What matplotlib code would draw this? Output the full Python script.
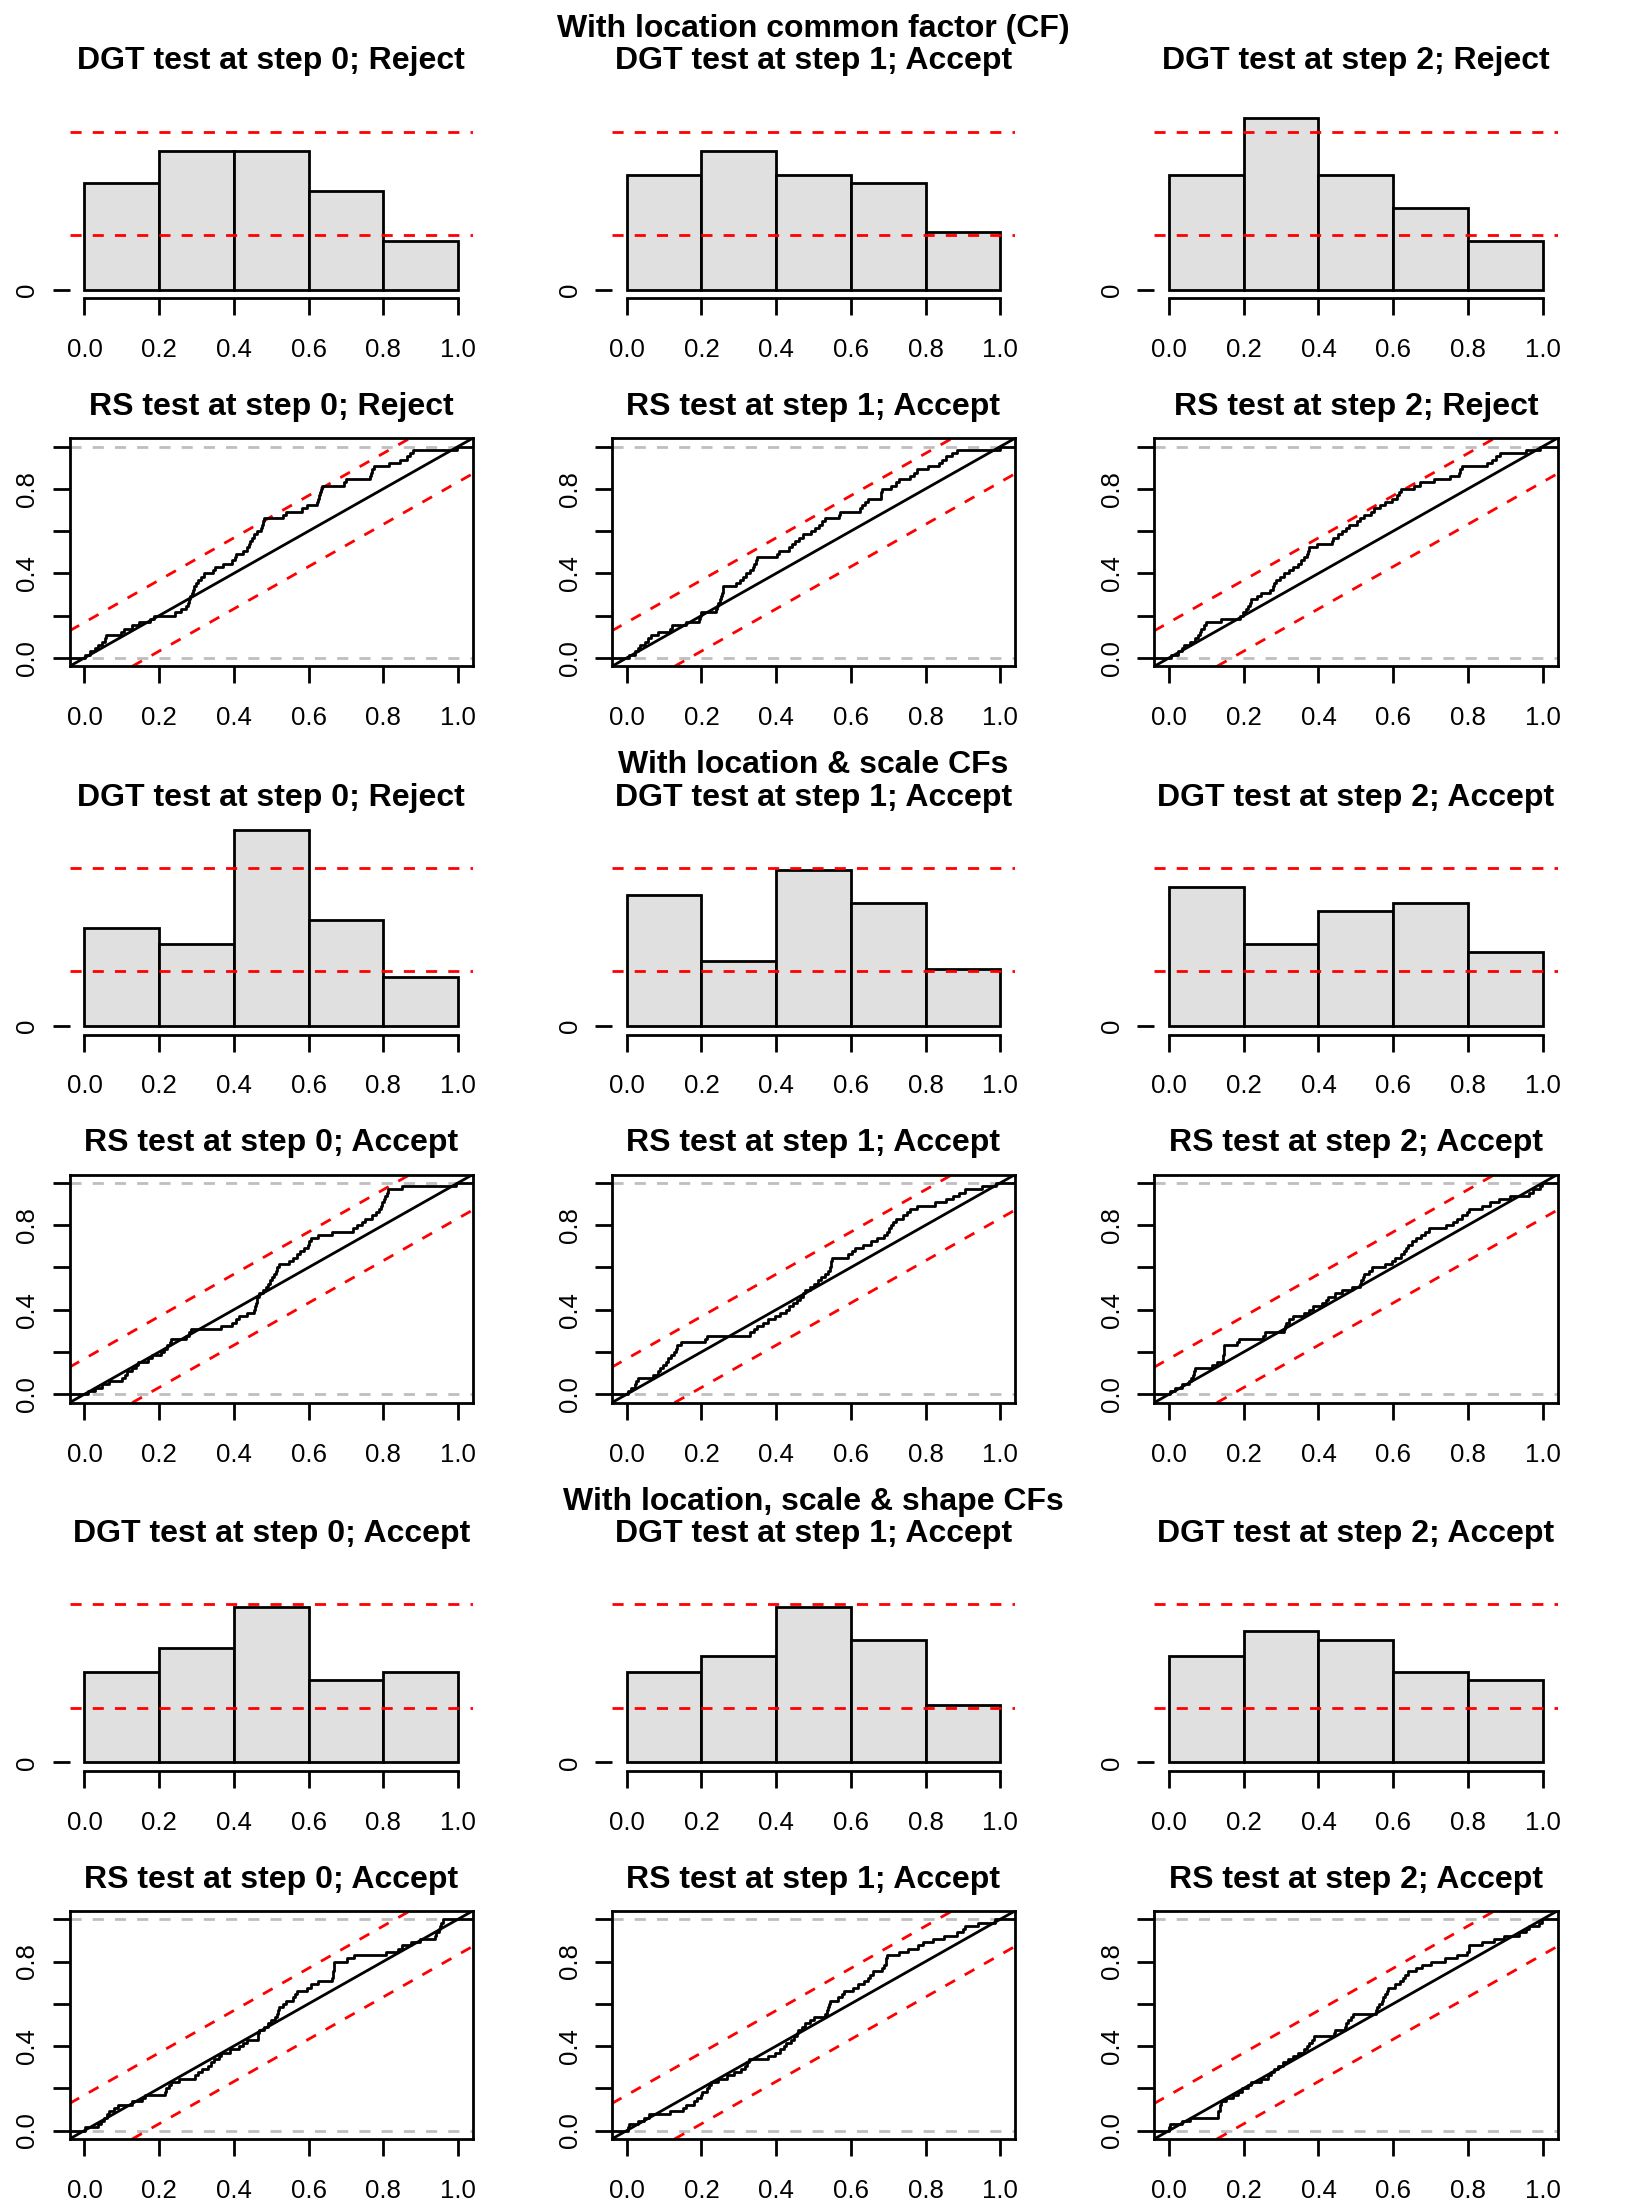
import numpy as np
import matplotlib
matplotlib.use("Agg")
import matplotlib.pyplot as plt

plt.rcParams['font.family'] = ['Liberation Sans', 'DejaVu Sans']

# 行标题 / 检验结果
row_titles = ["With location common factor (CF)",
              "With location & scale CFs",
              "With location, scale & shape CFs"]
dgt_results = [["Reject", "Accept", "Reject"],
               ["Reject", "Accept", "Accept"],
               ["Accept", "Accept", "Accept"]]
rs_results = [["Reject", "Accept", "Reject"],
              ["Accept", "Accept", "Accept"],
              ["Accept", "Accept", "Accept"]]

bin_edges = [0.0, 0.2, 0.4, 0.6, 0.8, 1.0]
x_ticks = [0.0, 0.2, 0.4, 0.6, 0.8, 1.0]
dgt_lower = 6.7     # 每个区间计数的置信下界
dgt_upper = 19.3    # 上界
dgt_ymax = 25.8
rs_band = 0.168     # KS 带宽

# PIT 值
pit_loc_0 = [0.002, 0.015, 0.028, 0.035, 0.048, 0.055, 0.058, 0.098, 0.105, 0.128, 0.145, 0.176, 0.185,
             0.242, 0.258, 0.272, 0.278, 0.281, 0.284, 0.287, 0.290, 0.293, 0.298, 0.305, 0.312, 0.320,
             0.344, 0.350, 0.372, 0.396,
             0.402, 0.406, 0.425, 0.436, 0.440, 0.444, 0.449, 0.454, 0.462, 0.473, 0.476, 0.479, 0.482,
             0.532, 0.540, 0.583, 0.595,
             0.622, 0.625, 0.628, 0.630, 0.633, 0.636, 0.695, 0.700, 0.765, 0.768, 0.771, 0.775,
             0.815, 0.846, 0.865, 0.872, 0.880, 0.998]
pit_loc_1 = [0.005, 0.021, 0.030, 0.035, 0.050, 0.058, 0.064, 0.083, 0.115, 0.121, 0.159, 0.193, 0.196, 0.198,
             0.238, 0.242, 0.245, 0.249, 0.252, 0.255, 0.257, 0.259, 0.292, 0.302, 0.311, 0.320, 0.330,
             0.337, 0.341, 0.345, 0.350,
             0.403, 0.407, 0.435, 0.442, 0.450, 0.462, 0.473, 0.492, 0.505, 0.516, 0.523, 0.530, 0.568, 0.570,
             0.625, 0.630, 0.638, 0.645, 0.680, 0.682, 0.683, 0.707, 0.720, 0.730, 0.759, 0.770, 0.778,
             0.807, 0.835, 0.845, 0.854, 0.870, 0.883, 0.999]
pit_loc_2 = [0.005, 0.025, 0.035, 0.040, 0.057, 0.070, 0.077, 0.082, 0.086, 0.094, 0.100, 0.138, 0.190, 0.197,
             0.205, 0.212, 0.216, 0.219, 0.235, 0.247, 0.271, 0.278, 0.282, 0.285, 0.298, 0.308, 0.320,
             0.332, 0.345, 0.352, 0.360, 0.368, 0.371, 0.375, 0.396,
             0.435, 0.440, 0.452, 0.464, 0.475, 0.483, 0.502, 0.512, 0.521, 0.540, 0.549, 0.565, 0.577, 0.598,
             0.610, 0.615, 0.620, 0.655, 0.672, 0.710, 0.752, 0.775, 0.780, 0.785,
             0.851, 0.865, 0.875, 0.885, 0.955, 0.992]
pit_scale_0 = [0.010, 0.028, 0.047, 0.066, 0.100, 0.108, 0.114, 0.128, 0.137, 0.143, 0.171, 0.180,
               0.205, 0.214, 0.222, 0.228, 0.233, 0.272, 0.280, 0.286, 0.367, 0.395,
               0.405, 0.415, 0.434, 0.454, 0.458, 0.460, 0.462, 0.463, 0.468, 0.478, 0.487, 0.492,
               0.497, 0.501, 0.508, 0.512, 0.516, 0.520, 0.549, 0.558, 0.568, 0.578, 0.588, 0.598,
               0.602, 0.606, 0.626, 0.664, 0.720, 0.731, 0.742, 0.750, 0.769, 0.780, 0.789, 0.794, 0.798,
               0.803, 0.806, 0.809, 0.812, 0.851, 0.995]
pit_scale_1 = [0.002, 0.010, 0.021, 0.026, 0.030, 0.069, 0.083, 0.090, 0.097, 0.104, 0.111, 0.118, 0.126,
               0.131, 0.135, 0.145,
               0.210, 0.216, 0.330, 0.342, 0.350, 0.365, 0.378, 0.397,
               0.410, 0.426, 0.435, 0.445, 0.455, 0.464, 0.472, 0.478, 0.490, 0.502, 0.512, 0.521,
               0.531, 0.540, 0.544, 0.546, 0.548, 0.550, 0.592,
               0.602, 0.611, 0.632, 0.654, 0.670, 0.688, 0.698, 0.703, 0.707, 0.714, 0.721, 0.740,
               0.750, 0.759, 0.778,
               0.826, 0.854, 0.873, 0.890, 0.907, 0.950, 0.990]
pit_scale_2 = [0.003, 0.015, 0.035, 0.054, 0.058, 0.063, 0.066, 0.068, 0.115, 0.129, 0.144, 0.145, 0.146,
               0.147, 0.148, 0.183, 0.186,
               0.252, 0.257, 0.308, 0.311, 0.313, 0.322, 0.332, 0.360, 0.375, 0.384,
               0.410, 0.420, 0.426, 0.445, 0.464, 0.490, 0.511, 0.515, 0.518, 0.521, 0.535, 0.544, 0.577, 0.598,
               0.604, 0.620, 0.628, 0.634, 0.639, 0.650, 0.662, 0.675, 0.686, 0.695, 0.742, 0.760, 0.771,
               0.785, 0.798,
               0.804, 0.837, 0.860, 0.884, 0.912, 0.965, 0.974, 0.992, 0.998]
pit_shape_0 = [0.002, 0.037, 0.045, 0.052, 0.060, 0.066, 0.080, 0.090, 0.128, 0.155, 0.162,
               0.215, 0.219, 0.226, 0.233, 0.253, 0.296, 0.305, 0.315, 0.330, 0.340, 0.348, 0.360, 0.367, 0.391,
               0.415, 0.425, 0.434, 0.464, 0.466, 0.468, 0.480, 0.492, 0.500, 0.511, 0.515, 0.518, 0.521,
               0.532, 0.540, 0.559, 0.564, 0.568, 0.597,
               0.607, 0.626, 0.664, 0.665, 0.666, 0.667, 0.668, 0.669, 0.702, 0.722,
               0.808, 0.840, 0.851, 0.875, 0.899, 0.940, 0.942, 0.950, 0.953, 0.956, 0.961]
pit_shape_1 = [0.002, 0.007, 0.030, 0.045, 0.059, 0.116, 0.150, 0.158, 0.180, 0.188, 0.198,
               0.202, 0.216, 0.220, 0.226, 0.245, 0.269, 0.288, 0.307, 0.316, 0.322, 0.326, 0.378, 0.397,
               0.410, 0.420, 0.426, 0.440, 0.448, 0.455, 0.459, 0.470, 0.478, 0.490, 0.502, 0.530, 0.537,
               0.540, 0.542, 0.545, 0.565, 0.575, 0.583,
               0.607, 0.620, 0.635, 0.645, 0.652, 0.659, 0.683, 0.690, 0.693, 0.695, 0.697, 0.730, 0.754,
               0.780, 0.792,
               0.820, 0.850, 0.885, 0.900, 0.907, 0.940, 0.985]
pit_shape_2 = [0.001, 0.003, 0.035, 0.057, 0.130, 0.132, 0.135, 0.137, 0.139, 0.153, 0.172, 0.185, 0.195,
               0.210, 0.219, 0.247, 0.265, 0.272, 0.280, 0.292, 0.304, 0.318, 0.332, 0.346, 0.360, 0.370,
               0.375, 0.382, 0.389,
               0.441, 0.445, 0.470, 0.475, 0.478, 0.486, 0.492, 0.555, 0.558, 0.563, 0.570, 0.574, 0.577,
               0.583, 0.587,
               0.606, 0.618, 0.625, 0.632, 0.639, 0.660, 0.676, 0.700, 0.738, 0.770, 0.799,
               0.802, 0.804, 0.837, 0.870, 0.898, 0.936, 0.955, 0.964, 0.990, 0.998]

pit_groups = [[pit_loc_0, pit_loc_1, pit_loc_2],
              [pit_scale_0, pit_scale_1, pit_scale_2],
              [pit_shape_0, pit_shape_1, pit_shape_2]]

W, H = 1627, 2209
CW, CH = W / 3, H / 6
ML, MR, MT, MB = 69.5, 69.5, 70, 70
LW = 2.0
TITLE_FS = 23.0
TICK_FS = 18.6
DASH = (0, (4, 4))


def axes_at(row, col):
    left = col * CW + ML
    top = row * CH + MT
    w = CW - ML - MR
    h = CH - MT - MB
    return fig.add_axes([left / W, 1 - (top + h) / H, w / W, h / H])


def title_at(row, col, text, offset):
    x = col * CW + ML + (CW - ML - MR) / 2
    y = row * CH + offset
    fig.text(x / W, 1 - y / H, text, ha='center', va='baseline',
             fontsize=TITLE_FS, fontweight='bold')


def style_ticks(ax):
    ax.tick_params(direction='out', length=12.2, width=LW, labelsize=TICK_FS, color='black')
    ax.tick_params(axis='x', pad=16.5)
    ax.tick_params(axis='y', pad=9.5, labelrotation=90)
    for lab in ax.get_yticklabels():
        lab.set_va('center')


def draw_dgt(ax, pit):
    ax.hist(pit, bins=bin_edges, color='#e0e0e0', edgecolor='black', linewidth=LW, zorder=1)
    for b in (dgt_lower, dgt_upper):
        ax.axhline(b, color='red', lw=LW, linestyle=DASH, zorder=3)
    ax.set_xlim(-0.04, 1.04)
    ax.set_ylim(-0.04 * dgt_ymax, 1.04 * dgt_ymax)
    for s in ('top', 'right', 'left'):
        ax.spines[s].set_visible(False)
    ax.spines['bottom'].set_bounds(0, 1)
    ax.spines['bottom'].set_linewidth(LW)
    ax.set_xticks(x_ticks)
    ax.set_xticklabels([f"{t:.1f}" for t in x_ticks])
    ax.set_yticks([0])
    ax.set_yticklabels(['0'])
    style_ticks(ax)


def draw_rs(ax, pit):
    xs = np.sort(pit)
    n = len(xs)
    xx = np.concatenate([[-0.1], xs, [1.1]])
    yy = np.concatenate([[0.0], np.arange(1, n + 1) / n, [1.0]])
    ax.axhline(0, color='#bebebe', lw=LW, linestyle=DASH, zorder=1)
    ax.axhline(1, color='#bebebe', lw=LW, linestyle=DASH, zorder=1)
    ax.axline((0, rs_band), slope=1, color='red', lw=LW, linestyle=DASH, zorder=2)
    ax.axline((0, -rs_band), slope=1, color='red', lw=LW, linestyle=DASH, zorder=2)
    ax.axline((0, 0), slope=1, color='black', lw=LW, zorder=3)
    ax.step(xx, yy, where='post', color='black', lw=LW, zorder=4)
    ax.set_xlim(-0.04, 1.04)
    ax.set_ylim(-0.04, 1.04)
    for s in ax.spines.values():
        s.set_linewidth(LW)
    ax.set_xticks(x_ticks)
    ax.set_xticklabels([f"{t:.1f}" for t in x_ticks])
    ax.set_yticks([0.0, 0.2, 0.4, 0.6, 0.8, 1.0])
    ax.set_yticklabels(['0.0', '', '0.4', '', '0.8', ''])
    style_ticks(ax)


fig = plt.figure(figsize=(W / 100, H / 100), dpi=100)

for g in range(3):
    r_hist = 2 * g
    r_rs = 2 * g + 1
    title_at(r_hist, 1, row_titles[g], 36.9)
    for c in range(3):
        ax = axes_at(r_hist, c)
        draw_dgt(ax, pit_groups[g][c])
        title_at(r_hist, c, f"DGT test at step {c}; {dgt_results[g][c]}", 69.5)

        ax = axes_at(r_rs, c)
        draw_rs(ax, pit_groups[g][c])
        title_at(r_rs, c, f"RS test at step {c}; {rs_results[g][c]}", 46.8)

fig.savefig("out.png", dpi=100)
